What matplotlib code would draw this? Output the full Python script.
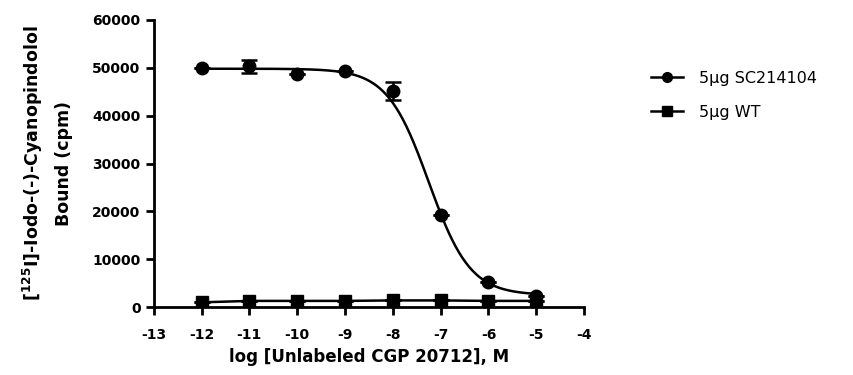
import numpy as np
import matplotlib
matplotlib.use("Agg")
import matplotlib.pyplot as plt

# log concentration of unlabeled CGP 20712 (M)
log_conc = [-12, -11, -10, -9, -8, -7, -6, -5]

# 5ug SC214104: mean bound cpm and SEM
sc_bound = [50000, 50300, 48700, 49300, 45200, 19300, 5200, 2300]
sc_err = [0, 1300, 0, 0, 1900, 0, 0, 0]

# 5ug WT
wt_bound = [1000, 1300, 1300, 1300, 1400, 1400, 1300, 1300]
wt_err = [0, 0, 0, 0, 0, 0, 0, 0]

# one-site competition fit for SC214104
sc_top = 49800
sc_bottom = 2500
sc_logic50 = -7.25

plt.rcParams['font.family'] = ['DejaVu Sans']

fig = plt.figure(figsize=(8.54, 3.75), dpi=100)
ax = fig.add_axes([0.180, 0.181, 0.504, 0.766])

# fitted curve
xfit = np.linspace(min(log_conc), max(log_conc), 300)
yfit = sc_bottom + (sc_top - sc_bottom) / (1 + 10 ** (xfit - sc_logic50))
ax.plot(xfit, yfit, color='black', lw=1.8, zorder=2)
ax.plot(log_conc, wt_bound, color='black', lw=1.8, zorder=2)

ax.errorbar(log_conc, sc_bound, yerr=sc_err, fmt='o', color='black', ms=9,
            capsize=6, elinewidth=1.8, capthick=1.8, zorder=3)
ax.errorbar(log_conc, wt_bound, yerr=wt_err, fmt='s', color='black', ms=8.5,
            capsize=6, elinewidth=1.8, capthick=1.8, zorder=3)

# legend handles
h1, = ax.plot([], [], color='black', lw=1.8, marker='o', ms=7)
h2, = ax.plot([], [], color='black', lw=1.8, marker='s', ms=7)
leg = fig.legend([h1, h2], ['5\u00b5g SC214104', '5\u00b5g WT'],
                 loc='upper left', bbox_to_anchor=(0.745, 0.85),
                 frameon=False, fontsize=11.5, handlelength=2.0,
                 labelspacing=1.2, handletextpad=1.0)

ax.set_xlim(-13, -4)
ax.set_ylim(0, 60000)
ax.set_xticks(range(-13, -3))
ax.set_yticks(range(0, 60001, 10000))
ax.set_xticklabels([str(v) for v in range(-13, -3)])

for s in ['top', 'right']:
    ax.spines[s].set_visible(False)
for s in ['left', 'bottom']:
    ax.spines[s].set_linewidth(2)
ax.tick_params(direction='out', length=6, width=2, labelsize=10)
ax.tick_params(axis='x', pad=9)
for lab in ax.get_xticklabels() + ax.get_yticklabels():
    lab.set_fontweight('bold')

ax.set_xlabel('log [Unlabeled CGP 20712], M', fontsize=12, fontweight='bold',
              labelpad=4)
ax.set_ylabel('[$^{\\mathbf{125}}$I]-Iodo-(-)-Cyanopindolol\nBound (cpm)',
              fontsize=12.5, fontweight='bold', labelpad=14, linespacing=1.7)

fig.savefig('out.png', dpi=100)
